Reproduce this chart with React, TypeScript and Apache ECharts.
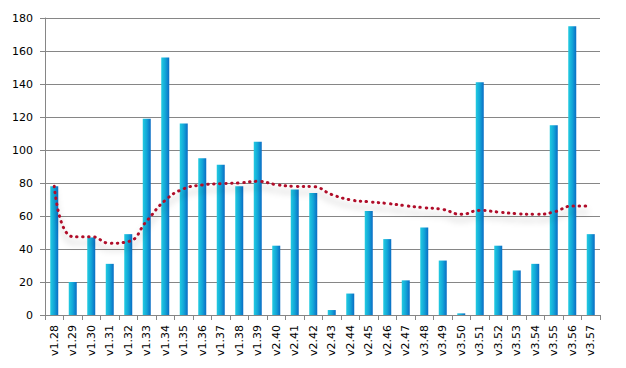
import React, { useEffect, useRef } from "react";
import * as echarts from "echarts";

const categories = [
  "v1.28", "v1.29", "v1.30", "v1.31", "v1.32", "v1.33", "v1.34", "v1.35", "v1.36", "v1.37",
  "v1.38", "v1.39", "v2.40", "v2.41", "v2.42", "v2.43", "v2.44", "v2.45", "v2.46", "v2.47",
  "v3.48", "v3.49", "v3.50", "v3.51", "v3.52", "v3.53", "v3.54", "v3.55", "v3.56", "v3.57",
];
const barValues = [
  78, 20, 47, 31, 49, 119, 156, 116, 95, 91,
  78, 105, 42, 76, 74, 3, 13, 63, 46, 21,
  53, 33, 1, 141, 42, 27, 31, 115, 175, 49,
];
const trendValues = [
  78, 47.5, 47.5, 43.5, 44.5, 57, 69.5, 76.5, 78.8, 79.6,
  80, 81, 79, 78, 77.8, 73, 69.8, 68.6, 67.6, 66.2,
  65, 64, 61, 63.4, 62.4, 61.4, 61, 62.4, 66, 66,
];
const yTicks = { min: 0, max: 180, interval: 20 };

export default function App() {
  const ref = useRef<HTMLDivElement>(null);
  useEffect(() => {
    if (!ref.current) return;
    const chart = echarts.init(ref.current, null, { renderer: "svg" });
    const font = "'DejaVu Sans', Verdana, sans-serif";
    chart.setOption({
      animation: false,
      backgroundColor: "#ffffff",
      grid: { left: 45, right: 26, top: 18, bottom: 53, containLabel: false },
      xAxis: {
        type: "category",
        data: categories,
        boundaryGap: true,
        axisLine: { lineStyle: { color: "#868686", width: 1 } },
        axisTick: { show: true, length: 5, lineStyle: { color: "#868686" }, alignWithLabel: false },
        axisLabel: {
          rotate: 90,
          interval: 0,
          color: "#000",
          fontFamily: font,
          fontSize: 11,
          margin: 10,
        },
        splitLine: { show: false },
      },
      yAxis: {
        type: "value",
        min: yTicks.min,
        max: yTicks.max,
        interval: yTicks.interval,
        axisLine: { show: true, lineStyle: { color: "#868686", width: 1 } },
        axisTick: { show: true, length: 5, lineStyle: { color: "#868686" } },
        axisLabel: { color: "#000", fontFamily: font, fontSize: 11, margin: 12 },
        splitLine: { show: true, lineStyle: { color: "#868686", width: 1 } },
      },
      series: [
        {
          type: "bar",
          data: barValues,
          barWidth: 8,
          itemStyle: {
            color: new echarts.graphic.LinearGradient(0, 0, 1, 0, [
              { offset: 0, color: "#22cbe0" },
              { offset: 0.5, color: "#12a6d8" },
              { offset: 1, color: "#0a6cc4" },
            ]),
          },
        },
        {
          type: "line",
          data: trendValues,
          smooth: 0.5,
          symbol: "none",
          z: 5,
          lineStyle: {
            color: "#b0102a",
            width: 3,
            type: [0.5, 5.5],
            cap: "round",
            shadowColor: "rgba(0,0,0,0.3)",
            shadowBlur: 6,
            shadowOffsetY: 6,
          },
        },
      ],
    });
    return () => chart.dispose();
  }, []);
  return (
    <div
      ref={ref}
      style={{ position: "fixed", left: 0, top: 0, width: 626, height: 368 }}
    />
  );
}
